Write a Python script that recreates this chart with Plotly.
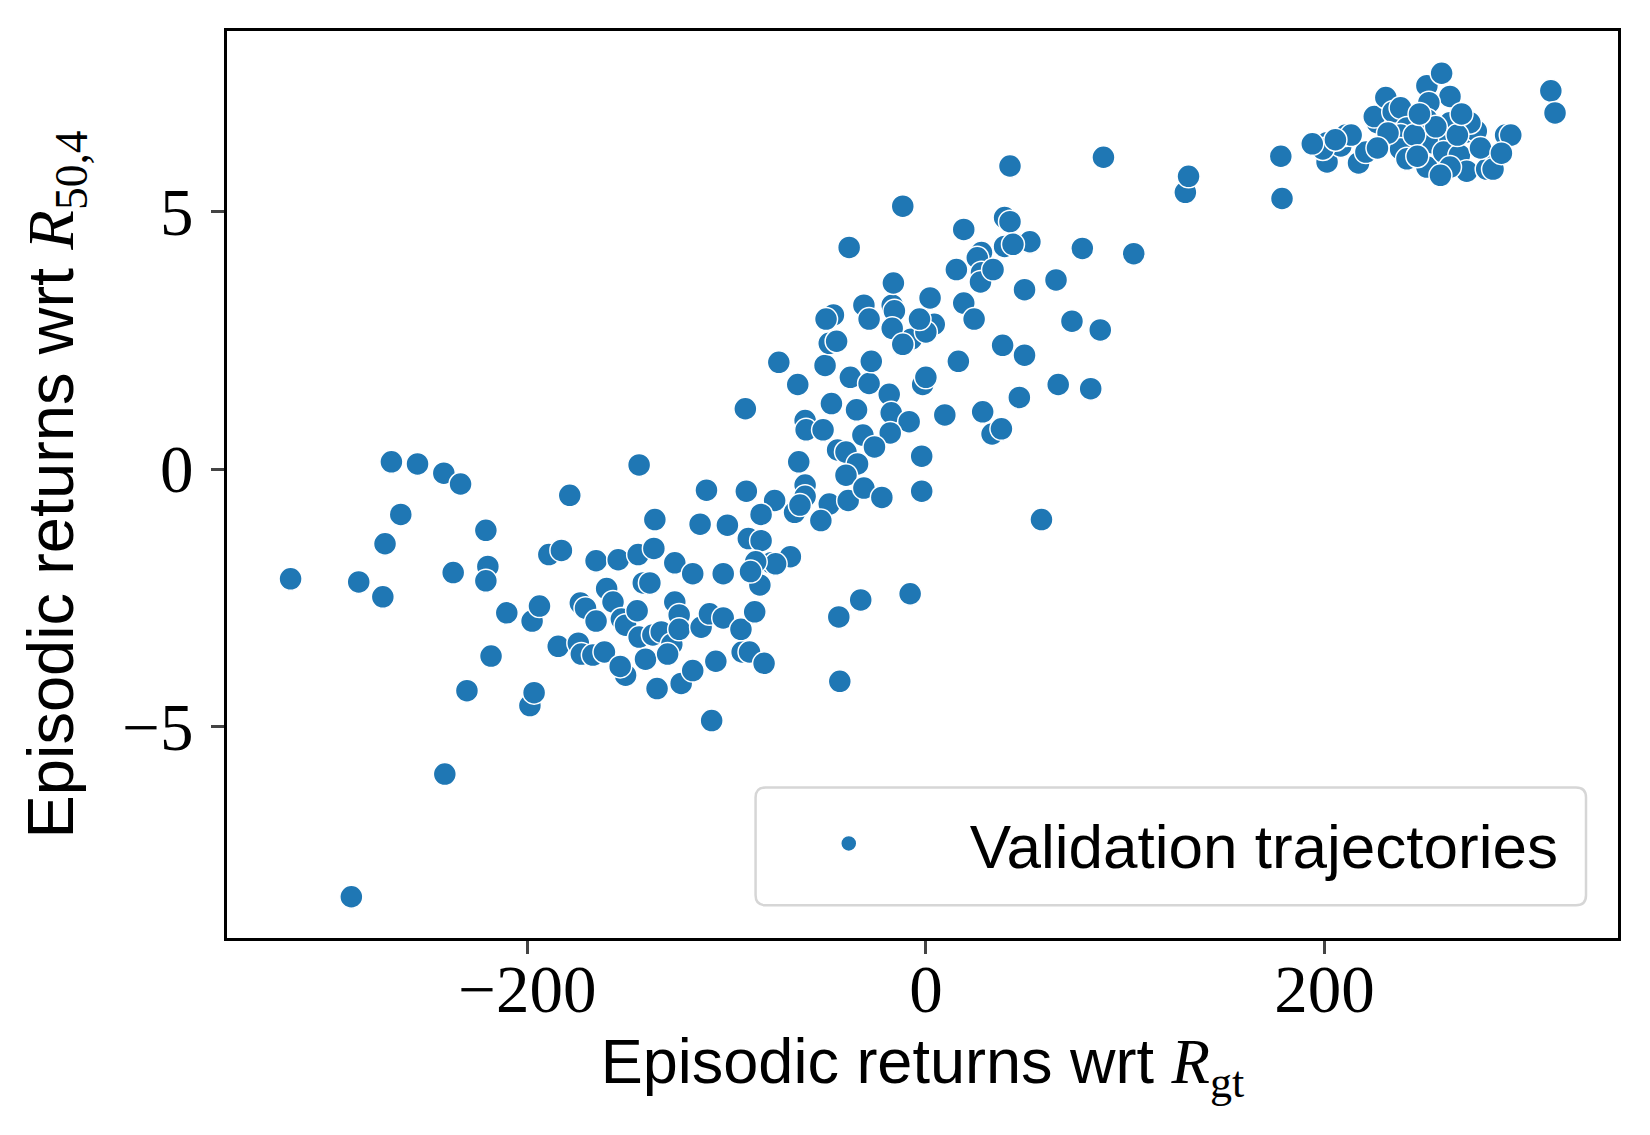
# scatter of episodic returns: learned reward R_50,4 against ground truth R_gt
# one series, validation trajectories

import plotly.graph_objects as go

# episodic returns wrt R_gt (x) and wrt R_50,4 (y)
returns_gt = [
    -318.8, -284.6, -272.5, -271.4, -263.5, -268.2, -255.1, -241.9, -233.5, -237.2,
    -230.3, -241.4, -288.3, -220.8, -219.8, -220.8, -218.2, -210.3, -197.6, -193.9,
    -198.7, -196.6, -189.2, -182.9, -178.7, -184.5, -174.4, -172.9, -167.1, -161.3,
    -173.4, -170.8, -165.5, -165.5, -160.2, -157.0, -154.4, -152.8, -150.7, -144.4,
    -136.5, -144.9, -143.9, -141.8, -138.5, -143.9, -137.0, -132.8, -150.7, -153.4,
    -140.7, -134.9, -127.5, -129.6, -126.0, -126.0, -123.8, -123.8, -122.8, -117.0,
    -117.0, -136.0, -113.3, -110.1, -112.8, -108.6, -101.7, -105.4, -107.5, -101.7,
    -99.6, -92.2, -88.5, -92.8, -90.1, -89.1, -82.7, -87.5, -85.9, -83.3,
    -81.2, -77.5, -75.9, -82.7, -90.6, -73.8, -64.3, -60.6, -60.1, -63.8,
    -60.6, -60.6, -65.9, -63.2, -68.0, -75.4, -85.4, -88.0, -50.6, -48.5,
    -44.8, -37.9, -28.5, -27.4, -18.4, -7.4, -11.6, -47.4, -34.8, -17.4,
    -8.4, -51.6, -31.6, -17.9, -25.8, -44.3, -40.1, -34.3, -40.1, -48.5,
    -39.0, -31.1, -22.1, -52.7, -43.7, -32.7, -43.2, -7.9, -46.4, -50.1,
    -31.1, -28.5, -16.9, -15.8, -16.9, -11.6, -16.3, 2.1, 4.2, 0.0,
    -3.2, -11.6, -38.5, -1.6, 0.0, 16.3, 38.5, 49.5, 46.9, 28.5,
    33.2, 37.9, 9.5, -2.1, -2.1, 19.0, 39.5, 42.2, 52.2, 39.5,
    43.7, 27.9, 25.8, 15.3, 27.9, 27.4, 33.7, 49.5, 19.0, 24.2,
    42.2, 58.0, 65.3, 66.4, 73.3, 78.5, 82.7, 87.5, 89.1, 104.3,
    130.2, 131.8, 178.1, 178.7, 201.3, 208.2, 210.8, 201.3, 199.2, 217.1,
    220.8, 226.6, 225.0, 230.8, 234.5, 238.2, 241.4, 238.2, 238.2, 241.4,
    251.4, 258.8, 263.0, 252.4, 251.4, 254.5, 251.4, 263.0, 263.0, 259.8,
    271.4, 276.2, 273.0, 267.7, 271.4, 263.0, 283.0, 281.4, 258.2, 286.7,
    290.9, 293.5, 313.6, 315.7, 284.6, 213.4, 205.5, 193.9, 231.9, 245.1,
    246.6, 255.9, 266.7, 278.3, 288.8, 226.6, 247.7, 268.8,
]
returns_504 = [
    -2.13, -2.19, -2.48, -1.45, -0.88, 0.14, 0.10, -0.08, -0.29, -2.01,
    -4.30, -5.92, -8.30, -1.19, -1.89, -2.17, -3.63, -2.79, -2.95, -2.66,
    -4.59, -4.34, -1.66, -1.58, -0.51, -3.44, -3.38, -3.59, -3.61, -3.55,
    -2.60, -2.70, -1.78, -2.95, -2.32, -2.58, -1.76, -2.91, -3.03, -1.66,
    -1.54, -2.75, 0.08, -2.21, -2.21, -3.26, -3.22, -3.16, -4.00, -3.83,
    -3.69, -4.26, -3.40, -3.59, -1.82, -2.58, -2.83, -3.11, -4.16, -3.91,
    -2.03, -0.98, -1.07, -0.41, -3.07, -2.81, -2.89, -3.73, -4.88, -2.03,
    -1.09, -3.55, -3.55, -3.11, -0.43, -1.35, -1.39, -2.01, -2.77, -2.25,
    -3.77, -1.82, -0.61, -0.88, 1.17, 2.07, 1.64, 0.94, 0.76, 0.14,
    -0.31, -0.53, -0.84, -0.70, -1.70, -1.84, -1.80, -1.99, 2.01, 2.44,
    2.48, 1.78, 1.66, 2.09, 1.45, 2.52, 2.40, 1.27, 1.15, 1.09,
    0.92, 0.76, 0.66, 0.70, 0.43, 0.37, 0.33, 0.10, -0.12, -0.68,
    -0.61, -0.37, -0.55, -1.00, -2.87, -2.54, -4.12, -2.42, 2.99, 2.91,
    3.18, 2.91, 3.18, 3.07, 2.73, 2.42, 3.61, 3.32, 2.81, 2.66,
    2.91, 5.10, 4.30, 1.64, 1.78, 2.09, 2.40, 2.21, 1.39, 1.11,
    0.68, 0.78, 1.05, 0.25, -0.43, 4.65, 4.88, 4.80, 4.41, 4.32,
    4.36, 4.20, 4.10, 3.87, 3.81, 3.63, 3.87, 3.48, 3.22, 2.91,
    5.88, -0.98, 3.67, 1.64, 2.87, 4.28, 1.56, 2.70, 6.05, 4.18,
    5.37, 5.68, 6.07, 5.25, 5.96, 6.27, 6.48, 6.33, 6.21, 5.94,
    6.15, 6.72, 6.84, 7.21, 6.93, 7.01, 6.62, 6.48, 6.21, 6.02,
    7.44, 7.68, 7.23, 7.11, 6.78, 6.33, 5.86, 6.72, 6.39, 6.15,
    6.54, 6.56, 6.72, 6.09, 5.78, 5.86, 6.00, 5.82, 5.70, 6.07,
    6.48, 6.48, 7.34, 6.91, 5.82, 6.48, 6.39, 6.31, 6.52, 6.48,
    6.07, 6.64, 6.48, 6.23, 6.13, 6.23, 6.89, 6.89,
]
x_ticks = [-200, 0, 200]
y_ticks = [-5, 0, 5]

SANS = "Liberation Sans"
SERIF = "Liberation Serif"

fig = go.Figure(
    data=[
        go.Scatter(
            name="Validation trajectories",
            x=returns_gt,
            y=returns_504,
            mode="markers",
            marker=dict(color="#1f77b4", size=23, line=dict(color="white", width=1.5)),
        ),
    ]
)

# rounded legend frame (paper coords), like matplotlib's fancybox
bx0, bx1, by0, by1 = 0.380, 0.977, 0.036, 0.166
rx, ry = 0.0072, 0.011
frame = (
    f"M {bx0 + rx} {by0} L {bx1 - rx} {by0} Q {bx1} {by0} {bx1} {by0 + ry} "
    f"L {bx1} {by1 - ry} Q {bx1} {by1} {bx1 - rx} {by1} "
    f"L {bx0 + rx} {by1} Q {bx0} {by1} {bx0} {by1 - ry} "
    f"L {bx0} {by0 + ry} Q {bx0} {by0} {bx0 + rx} {by0} Z"
)

fig.update_layout(
    plot_bgcolor="white",
    paper_bgcolor="white",
    font=dict(family=SANS, size=62, color="black"),
    autosize=False,
    width=1650,
    height=1135,
    margin=dict(l=219, r=40, t=23, b=205),
    showlegend=True,
    legend=dict(
        x=0.360,
        y=0.104,
        xanchor="left",
        yanchor="middle",
        bgcolor="rgba(0,0,0,0)",
        borderwidth=0,
        itemwidth=232,
        font=dict(family=SANS, size=62),
    ),
    shapes=[
        dict(
            type="path",
            path=frame,
            xref="paper",
            yref="paper",
            fillcolor="rgba(255,255,255,0.8)",
            line=dict(color="#d6d6d6", width=2.5),
            layer="above",
        )
    ],
)

# x-axis
fig.update_xaxes(
    title=dict(
        text="Episodic returns wrt <span style='font-family:Liberation Serif'><i>R</i><sub>gt</sub></span>",
        font=dict(family=SANS, size=63),
        standoff=10,
    ),
    range=[-350.7, 347.3],
    tickvals=x_ticks,
    tickfont=dict(family=SERIF, size=67),
    ticks="outside",
    ticklen=13,
    tickwidth=3,
    ticklabelstandoff=-22,
    showgrid=False,
    zeroline=False,
    showline=True,
    linecolor="black",
    linewidth=3,
    mirror=True,
)

# y-axis
fig.update_yaxes(
    title=dict(
        text="Episodic returns wrt <span style='font-family:Liberation Serif'><i>R</i><sub>50,4</sub></span>",
        font=dict(family=SANS, size=65),
        standoff=28,
    ),
    range=[-9.1, 8.5],
    tickvals=y_ticks,
    tickfont=dict(family=SERIF, size=67),
    ticks="outside",
    ticklen=13,
    tickwidth=3,
    ticklabelstandoff=4,
    showgrid=False,
    zeroline=False,
    showline=True,
    linecolor="black",
    linewidth=3,
    mirror=True,
)

fig.write_html("out.html")
